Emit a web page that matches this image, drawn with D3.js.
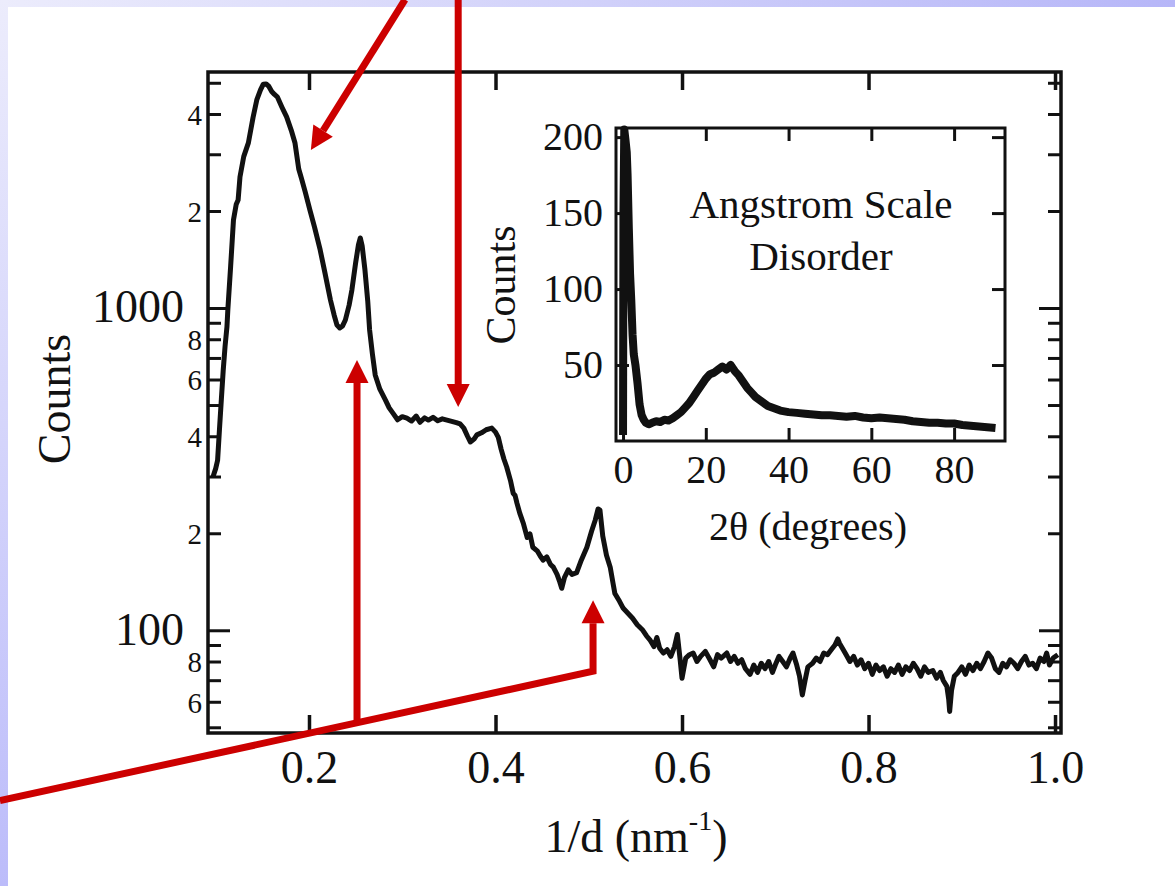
<!DOCTYPE html>
<html>
<head>
<meta charset="utf-8">
<script src="https://cdn.jsdelivr.net/npm/d3@7"></script>
<style>
body{margin:0;background:#fff;overflow:hidden}
svg text{font-family:"Liberation Serif","Times New Roman",serif;fill:#111}
</style>
</head>
<body>
<div id="chart"></div>
<script>
// main scan: 1/d (nm^-1), counts
var mainData = [[0.097,299],[0.100,318],[0.102,337],[0.104,420],[0.106,520],[0.108,640],[0.110,760],[0.112,873],[0.113,990],[0.116,1350],[0.119,1875],[0.122,2100],[0.124,2163],[0.126,2553],[0.130,2950],[0.135,3254],[0.140,3900],[0.144,4424],[0.148,4750],[0.151,4950],[0.154,4960],[0.157,4870],[0.160,4700],[0.163,4600],[0.166,4522],[0.171,4200],[0.176,3917],[0.181,3560],[0.185,3250],[0.189,2700],[0.192,2520],[0.196,2290],[0.201,2013],[0.206,1780],[0.212,1514],[0.217,1290],[0.223,1059],[0.227,950],[0.230,885],[0.233,867],[0.236,880],[0.239,918],[0.243,1020],[0.246,1138],[0.250,1380],[0.253,1570],[0.255,1650],[0.257,1560],[0.260,1313],[0.263,1050],[0.265,855],[0.268,720],[0.271,620],[0.276,560],[0.282,518],[0.286,490],[0.290,472],[0.295,450],[0.300,460],[0.305,455],[0.310,446],[0.315,462],[0.319,442],[0.324,456],[0.328,449],[0.333,458],[0.338,447],[0.343,453],[0.348,449],[0.353,445],[0.358,441],[0.362,437],[0.366,424],[0.370,400],[0.373,384],[0.377,392],[0.380,404],[0.385,410],[0.390,419],[0.396,424],[0.400,412],[0.403,397],[0.406,365],[0.409,340],[0.412,321],[0.416,292],[0.419,266],[0.421,262],[0.423,248],[0.426,231],[0.430,214],[0.434,194],[0.437,199],[0.440,181],[0.445,176],[0.448,170],[0.451,165],[0.455,169],[0.459,160],[0.462,157],[0.466,149],[0.469,141],[0.471,135],[0.474,146],[0.478,154],[0.482,149],[0.487,151],[0.492,165],[0.498,181],[0.503,203],[0.507,220],[0.510,238],[0.512,236],[0.515,196],[0.519,171],[0.523,157],[0.526,140],[0.528,130],[0.533,123],[0.537,117],[0.542,113],[0.547,109],[0.552,104],[0.558,100],[0.562,96],[0.566,93],[0.570,89],[0.573,95],[0.576,88],[0.580,85],[0.584,87],[0.588,83],[0.592,89],[0.595,97],[0.598,81],[0.600,71],[0.604,82],[0.608,84],[0.612,85],[0.616,80],[0.620,83],[0.625,86],[0.630,81],[0.634,77],[0.638,84],[0.642,82],[0.648,85],[0.652,80],[0.656,83],[0.660,79],[0.664,81],[0.668,76],[0.673,73],[0.677,78],[0.681,74],[0.685,79],[0.689,76],[0.693,80],[0.697,74],[0.700,78],[0.704,83],[0.708,80],[0.712,77],[0.716,82],[0.719,85],[0.723,78],[0.726,72],[0.729,63],[0.732,70],[0.735,77],[0.740,79],[0.744,82],[0.748,80],[0.752,85],[0.756,84],[0.760,87],[0.764,90],[0.767,94],[0.769,91],[0.772,88],[0.776,84],[0.780,80],[0.784,83],[0.788,78],[0.792,81],[0.796,76],[0.800,79],[0.804,73],[0.808,78],[0.812,75],[0.816,77],[0.820,72],[0.824,76],[0.828,74],[0.832,78],[0.836,73],[0.840,77],[0.844,75],[0.848,79],[0.852,76],[0.856,72],[0.860,77],[0.864,74],[0.869,75],[0.873,71],[0.877,74],[0.880,70],[0.884,67],[0.886,61],[0.887,56],[0.889,65],[0.892,72],[0.896,74],[0.900,77],[0.904,73],[0.908,78],[0.912,75],[0.916,79],[0.920,76],[0.924,80],[0.928,85],[0.932,82],[0.936,76],[0.940,74],[0.944,79],[0.948,77],[0.952,81],[0.956,79],[0.960,76],[0.964,80],[0.968,83],[0.972,78],[0.976,79],[0.980,76],[0.984,82],[0.988,80],[0.991,85],[0.994,78],[0.998,82],[1.003,84]]

// inset: 2theta (degrees), counts
var insetData = [[0.0,4],[0.1,150],[0.3,205],[0.6,198],[0.9,190],[1.1,175],[1.4,140],[1.7,110],[2.0,92],[2.3,70],[2.6,57],[3.0,50],[3.5,38],[4.0,24],[4.5,17],[5.0,14],[5.5,12],[6.2,11],[7,12],[8,13],[9,12.5],[10,14],[11,13.5],[12,15],[13,17],[14,19],[15,22],[16,25],[17,29],[18,33],[19,37],[20,41],[21,44],[22,45],[23,47],[24,49],[25,47],[26,50],[27,46],[28,43],[29,39],[30,35],[31,32],[32,29],[33,27],[34,25],[35,23],[36,22],[38,20],[40,19],[42,18.5],[44,18],[46,17.5],[48,17],[50,17],[52,16.5],[54,16],[56,16.5],[58,15.5],[60,15],[62,15.5],[64,15],[66,14.5],[68,14],[70,13],[72,12.5],[74,12],[76,12],[78,11.5],[80,11.5],[82,10.5],[84,10],[86,9.5],[88,9],[90,8.5]]

var xTicks = [0.2,0.4,0.6,0.8,1.0]
var yMajorTicks = [100,1000]
var yMinorTicks = [50,60,70,80,90,200,300,400,500,600,700,800,900,2000,3000,4000,5000]
var insetXTicks = [0,20,40,60,80]
var insetYTicks = [50,100,150,200]

// red annotation arrows, in main chart units [1/d, counts]
var arrows = [
	[[0.303,9060],[0.202,3092]],
	[[0.360,9060],[0.360,493]],
	[[0.2515,52.5],[0.2515,690]],
	[[-0.1314,29.6],[0.5046,74.6],[0.5046,124]]
]

var W = 1175, H = 886
var svg = d3.select("#chart").append("svg").attr("width",W).attr("height",H)

var defs = svg.append("defs")
var gTop = defs.append("linearGradient").attr("id","bandTop").attr("x1",0).attr("x2",1).attr("y1",0).attr("y2",0)
gTop.append("stop").attr("offset",0).attr("stop-color","#ececfc")
gTop.append("stop").attr("offset",1).attr("stop-color","#b6b6f8")
var gLeft = defs.append("linearGradient").attr("id","bandLeft").attr("x1",0).attr("x2",0).attr("y1",0).attr("y2",1)
gLeft.append("stop").attr("offset",0).attr("stop-color","#ececfc")
gLeft.append("stop").attr("offset",1).attr("stop-color","#bcbcfa")

svg.append("rect").attr("width",W).attr("height",H).attr("fill","#fff")
svg.append("rect").attr("width",W).attr("height",7).attr("fill","url(#bandTop)")
svg.append("rect").attr("width",8).attr("height",H).attr("fill","url(#bandLeft)")

var x = d3.scaleLinear().domain([0.0917,1.0064]).range([208,1061])
var y = d3.scaleLog().domain([48,5400]).range([733,72])

function styleAxis(g,size,width){
	g.select(".domain").remove()
	g.attr("font-family",null).attr("font-size",null)
	g.selectAll("line").attr("stroke","#111").attr("stroke-width",width)
	g.selectAll("text").style("font-size",size+"px")
}

function firstDigit(d){
	var s = String(d)[0]
	return (s=="2"||s=="4"||s=="6"||s=="8") ? s : ""
}

// main axes
svg.append("g").attr("transform","translate(208,0)")
	.call(d3.axisLeft(y).tickValues(yMinorTicks).tickSize(-13).tickPadding(6).tickFormat(firstDigit))
	.call(styleAxis,29,3).selectAll("text").attr("dy","0.36em")
svg.append("g").attr("transform","translate(208,0)")
	.call(d3.axisLeft(y).tickValues(yMajorTicks).tickSize(-22).tickPadding(24).tickFormat(d3.format("d")))
	.call(styleAxis,46,3).selectAll("text").attr("dy","0.3em")
svg.append("g").attr("transform","translate(1061,0)")
	.call(d3.axisRight(y).tickValues(yMinorTicks).tickSize(-13).tickFormat(""))
	.call(styleAxis,26,3)
svg.append("g").attr("transform","translate(1061,0)")
	.call(d3.axisRight(y).tickValues(yMajorTicks).tickSize(-22).tickFormat(""))
	.call(styleAxis,26,3)
svg.append("g").attr("transform","translate(0,733)")
	.call(d3.axisBottom(x).tickValues(xTicks).tickSize(-18).tickPadding(17).tickFormat(d3.format(".1f")))
	.call(styleAxis,46,3.5)
svg.append("g").attr("transform","translate(0,72)")
	.call(d3.axisTop(x).tickValues(xTicks).tickSize(-18).tickFormat(""))
	.call(styleAxis,46,3.5)

svg.append("rect").attr("x",208).attr("y",72).attr("width",853).attr("height",661)
	.attr("fill","none").attr("stroke","#111").attr("stroke-width",3.5)

var line = d3.line().x(function(d){return x(d[0])}).y(function(d){return y(d[1])})
svg.append("path").datum(mainData).attr("d",line)
	.attr("fill","none").attr("stroke","#111").attr("stroke-width",5)
	.attr("stroke-linejoin","round")

svg.append("text").attr("x",636).attr("y",852).attr("text-anchor","middle").style("font-size","46px")
	.call(function(t){
		t.append("tspan").text("1/d (nm")
		t.append("tspan").attr("dy",-22).style("font-size","28px").text("-1")
		t.append("tspan").attr("dy",22).text(")")
	})
svg.append("text").attr("transform","translate(70,399) rotate(-90)").attr("text-anchor","middle")
	.style("font-size","46px").text("Counts")

// inset
var ix = d3.scaleLinear().domain([-1.7,92.3]).range([616,1005])
var iy = d3.scaleLinear().domain([0,206]).range([441,128])

svg.append("rect").attr("x",616).attr("y",128).attr("width",389).attr("height",313).attr("fill","#fff")

svg.append("g").attr("transform","translate(0,441)")
	.call(d3.axisBottom(ix).tickValues(insetXTicks).tickSize(-13).tickPadding(14))
	.call(styleAxis,40,3)
svg.append("g").attr("transform","translate(0,128)")
	.call(d3.axisTop(ix).tickValues(insetXTicks).tickSize(-13).tickFormat(""))
	.call(styleAxis,40,3)
svg.append("g").attr("transform","translate(616,0)")
	.call(d3.axisLeft(iy).tickValues(insetYTicks).tickSize(-13).tickPadding(13))
	.call(styleAxis,40,3).selectAll("text").attr("dy","0.3em")
svg.append("g").attr("transform","translate(1005,0)")
	.call(d3.axisRight(iy).tickValues(insetYTicks).tickSize(-13).tickFormat(""))
	.call(styleAxis,40,3)

var iline = d3.line().x(function(d){return ix(d[0])}).y(function(d){return iy(d[1])})
svg.append("path").datum(insetData).attr("d",iline)
	.attr("fill","none").attr("stroke","#111").attr("stroke-width",8)
	.attr("stroke-linejoin","round")

svg.append("rect").attr("x",616).attr("y",128).attr("width",389).attr("height",313)
	.attr("fill","none").attr("stroke","#111").attr("stroke-width",3)

svg.append("text").attr("x",808).attr("y",540).attr("text-anchor","middle").style("font-size","40px").text("2θ (degrees)")
svg.append("text").attr("transform","translate(515,285) rotate(-90)").attr("text-anchor","middle")
	.style("font-size","42px").text("Counts")
svg.append("text").attr("x",821).attr("y",218).attr("text-anchor","middle").style("font-size","41px").text("Angstrom Scale")
svg.append("text").attr("x",821).attr("y",270).attr("text-anchor","middle").style("font-size","41px").text("Disorder")

// arrows
var red = "#cc0000"
var head = 23
arrows.forEach(function(a){
	var pts = a.map(function(d){return [x(d[0]),y(d[1])]})
	var tip = pts[pts.length-1], prev = pts[pts.length-2]
	var dx = tip[0]-prev[0], dy = tip[1]-prev[1]
	var len = Math.sqrt(dx*dx+dy*dy)
	var ux = dx/len, uy = dy/len
	var base = [tip[0]-ux*head, tip[1]-uy*head]
	var shaft = pts.slice(0,-1).concat([base])
	svg.append("path").attr("d",d3.line()(shaft))
		.attr("fill","none").attr("stroke",red).attr("stroke-width",7).attr("stroke-linejoin","miter")
	svg.append("path")
		.attr("d","M"+tip[0]+","+tip[1]+"L"+(base[0]-uy*head/2)+","+(base[1]+ux*head/2)+"L"+(base[0]+uy*head/2)+","+(base[1]-ux*head/2)+"Z")
		.attr("fill",red)
})
</script>
</body>
</html>
